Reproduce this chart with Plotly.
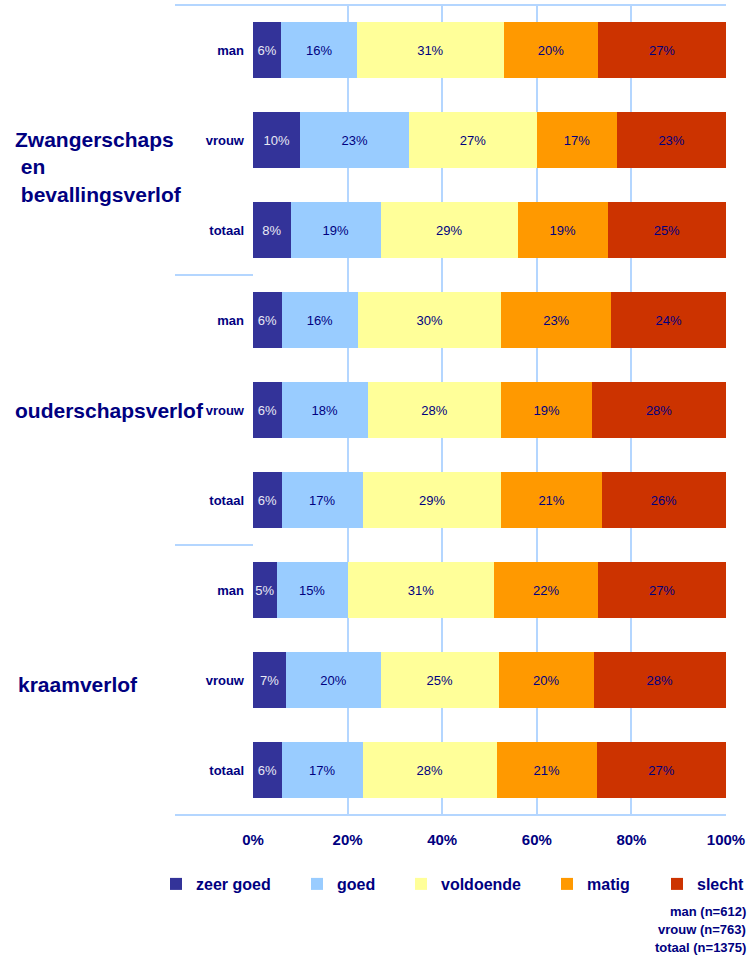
import plotly.graph_objects as go

# rows, top to bottom
rows = ["man", "vrouw", "totaal", "man", "vrouw", "totaal", "man", "vrouw", "totaal"]
groups = ["Zwangerschaps<br>\u00a0en<br>\u00a0bevallingsverlof", "ouderschapsverlof", "kraamverlof"]

zeer_goed = [6, 10, 8, 6, 6, 6, 5, 7, 6]
goed = [16, 23, 19, 16, 18, 17, 15, 20, 17]
voldoende = [31, 27, 29, 30, 28, 29, 31, 25, 28]
matig = [20, 17, 19, 23, 19, 21, 22, 20, 21]
slecht = [27, 23, 25, 24, 28, 26, 27, 28, 27]

x_ticks = [0, 20, 40, 60, 80, 100]
x_labels = ["0%", "20%", "40%", "60%", "80%", "100%"]

series = [
    ("zeer goed", zeer_goed, "#333399", "#E8E8F4"),
    ("goed", goed, "#99CCFF", "#000080"),
    ("voldoende", voldoende, "#FFFF99", "#000080"),
    ("matig", matig, "#FF9900", "#000080"),
    ("slecht", slecht, "#CC3300", "#000080"),
]
footnotes = ["man (n=612)", "vrouw (n=763)", "totaal (n=1375)"]

NAVY = "#000080"
GRID = "#B4D6FF"
FONT = "Arial, Liberation Sans, sans-serif"

W, H = 747, 956
ML, MR, MT, MB = 253, 21, 5, 141
PW = W - ML - MR
PH = H - MT - MB


def px_x(x):
    return (x - ML) / PW


def px_y(y):
    return (H - MB - y) / PH


fig = go.Figure()
ypos = list(range(len(rows)))
legend_centers = [176, 317, 421, 567, 677]

for i, (name, vals, color, tcolor) in enumerate(series):
    fig.add_trace(
        go.Bar(
            y=ypos,
            x=vals,
            name=name,
            orientation="h",
            width=0.63,
            marker=dict(color=color, line=dict(width=0)),
            text=[f"{v}%" for v in vals],
            texttemplate="%{text}",
            textposition="inside",
            insidetextanchor="middle",
            textangle=0,
            insidetextfont=dict(family=FONT, size=13, color=tcolor),
            legend="legend" if i == 0 else f"legend{i + 1}",
            hovertemplate=name + ": %{text}<extra></extra>",
        )
    )

legends = {}
for i, c in enumerate(legend_centers):
    key = "legend" if i == 0 else f"legend{i + 1}"
    legends[key] = dict(
        x=px_x(c - 20),
        xanchor="left",
        y=px_y(884),
        yanchor="middle",
        orientation="h",
        font=dict(family=FONT, size=16, color=NAVY, weight="bold"),
        bgcolor="rgba(0,0,0,0)",
        borderwidth=0,
    )

shapes = [
    dict(type="line", xref="paper", yref="paper", x0=px_x(175), x1=1, y0=1, y1=1,
         line=dict(color=GRID, width=2)),
    dict(type="line", xref="paper", yref="paper", x0=px_x(175), x1=1, y0=0, y1=0,
         line=dict(color=GRID, width=2)),
]
for sep in [2.5, 5.5]:
    shapes.append(dict(type="line", xref="paper", yref="y", x0=px_x(175), x1=0, y0=sep, y1=sep,
                       line=dict(color=GRID, width=2)))

annotations = []
for g, yc, xl in zip(groups, [1.3, 4.0, 7.05], [13, 13, 16]):
    annotations.append(dict(
        text=g, xref="paper", yref="y", x=px_x(xl), y=yc, xanchor="left", yanchor="middle",
        align="left", showarrow=False,
        font=dict(family=FONT, size=21, color=NAVY, weight="bold"),
    ))
for t, yy in zip(footnotes, [911, 929, 947]):
    annotations.append(dict(
        text=t, xref="paper", yref="paper", x=px_x(748), y=px_y(yy), xanchor="right",
        yanchor="middle", align="right", showarrow=False,
        font=dict(family=FONT, size=13, color=NAVY, weight="bold"),
    ))

fig.update_layout(
    width=W,
    height=H,
    margin=dict(l=ML, r=MR, t=MT, b=MB, autoexpand=False),
    barmode="stack",
    barnorm="percent",
    plot_bgcolor="white",
    paper_bgcolor="white",
    showlegend=True,
    shapes=shapes,
    annotations=annotations,
    uniformtext=dict(minsize=13, mode="show"),
    **legends,
)
fig.update_xaxes(
    range=[0, 100],
    tickvals=x_ticks,
    ticktext=x_labels,
    showgrid=True,
    gridcolor=GRID,
    gridwidth=2,
    zeroline=False,
    showline=False,
    ticks="",
    ticklabelstandoff=14,
    tickfont=dict(family=FONT, size=15, color=NAVY, weight="bold"),
    fixedrange=True,
)
fig.update_yaxes(
    tickvals=ypos,
    ticktext=rows,
    range=[8.5, -0.5],
    showgrid=False,
    zeroline=False,
    showline=False,
    ticks="",
    ticklabelstandoff=8,
    tickfont=dict(family=FONT, size=13, color=NAVY, weight="bold"),
    fixedrange=True,
)

# page body has a default margin; remove it so the figure sits at the window origin
fig.write_html(
    "out.html",
    config={"displayModeBar": False},
    post_script="document.body.style.margin='0';",
)
